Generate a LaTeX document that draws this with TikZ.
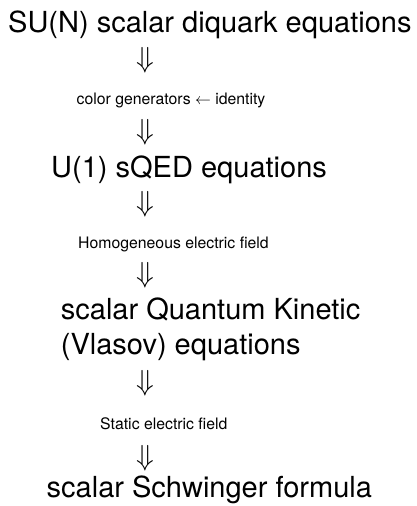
\documentclass[tikz,border=0pt]{standalone}
\usepackage{fix-cm}
\usepackage{fontspec}
\setmainfont{TeX Gyre Heros}
\begin{document}
\begin{tikzpicture}[x=1pt,y=-1pt,
  big/.style={inner sep=0pt, anchor=base west, font=\fontsize{29}{35}\selectfont},
  small/.style={inner sep=0pt, anchor=base west, font=\fontsize{15.8}{19}\selectfont},
  darr/.style={inner sep=0pt, anchor=base, font=\fontsize{29}{35}\selectfont}]
\useasboundingbox (0,0) rectangle (416,506);
\node[big] (t1) at (8,32) {SU(N) scalar diquark equations};
\node[darr] (a1) at (145.5,67.5) {$\Downarrow$};
\node[small] (s1) at (76.5,104) {color generators $\leftarrow$ identity};
\node[darr] (a2) at (145.5,139) {$\Downarrow$};
\node[big] (t2) at (51,177) {U(1) sQED equations};
\node[darr] (a3) at (145.5,211) {$\Downarrow$};
\node[small] (s2) at (78,248) {Homogeneous electric field};
\node[darr] (a4) at (145.5,282) {$\Downarrow$};
\node[big] (t3a) at (60.7,319) {scalar Quantum Kinetic};
\node[big] (t3b) at (60.7,354) {(Vlasov) equations};
\node[darr] (a5) at (145.5,390) {$\Downarrow$};
\node[small] (s3) at (100,429) {Static electric field};
\node[darr] (a6) at (145.5,465) {$\Downarrow$};
\node[big] (t4) at (46.5,497) {scalar Schwinger formula};
\end{tikzpicture}
\end{document}
